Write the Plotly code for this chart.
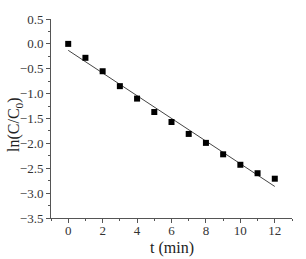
import numpy as np
import plotly.graph_objects as go

t = [0, 1, 2, 3, 4, 5, 6, 7, 8, 9, 10, 11, 12]
ln_ratio = [0.0, -0.28, -0.55, -0.85, -1.10, -1.37, -1.57, -1.81, -1.99, -2.22, -2.43, -2.60, -2.71]
fit_slope = -0.228
fit_intercept = -0.13
fit_t = [0, 12]
fit_y = [fit_intercept + fit_slope * v for v in fit_t]

font = "Liberation Serif"
fig = go.Figure()
fig.add_trace(go.Scatter(x=fit_t, y=fit_y, mode="lines",
                         line=dict(color="#444", width=1), showlegend=False))
fig.add_trace(go.Scatter(x=t, y=ln_ratio, mode="markers",
                         marker=dict(symbol="square", size=6, color="black"), showlegend=False))

axis_common = dict(showgrid=False, zeroline=False, showline=True, linecolor="#555", linewidth=1,
                   ticks="outside", ticklen=4, tickcolor="#555", mirror=False,
                   tickfont=dict(family=font, size=13, color="#333"))
fig.update_xaxes(range=[-1, 13], tickvals=[0, 2, 4, 6, 8, 10, 12], ticklabelstandoff=-4,
                 minor=dict(ticks="outside", ticklen=2, dtick=1, tick0=0, tickcolor="#555"),
                 **axis_common)
fig.update_yaxes(range=[-3.5, 0.5], dtick=0.5, tickformat=".1f",
                 minor=dict(ticks="outside", ticklen=2, dtick=0.25, tick0=0, tickcolor="#555"),
                 **axis_common)
fig.add_annotation(text="ln(C/C<sub>0</sub>)", xref="paper", yref="paper", x=-0.149, y=0.468,
                   xanchor="center", yanchor="middle", textangle=-90, showarrow=False,
                   font=dict(family=font, size=16, color="#222"))
fig.add_annotation(text="t (min)", xref="paper", yref="paper", x=0.5, y=-0.095,
                   xanchor="center", yanchor="top", showarrow=False,
                   font=dict(family=font, size=16, color="#222"))
fig.update_layout(width=306, height=259, margin=dict(l=51, r=14, t=17, b=41),
                  paper_bgcolor="white", plot_bgcolor="white")
fig.write_html("out.html", config={"displayModeBar": False},
               post_script="document.body.style.margin='0';")
